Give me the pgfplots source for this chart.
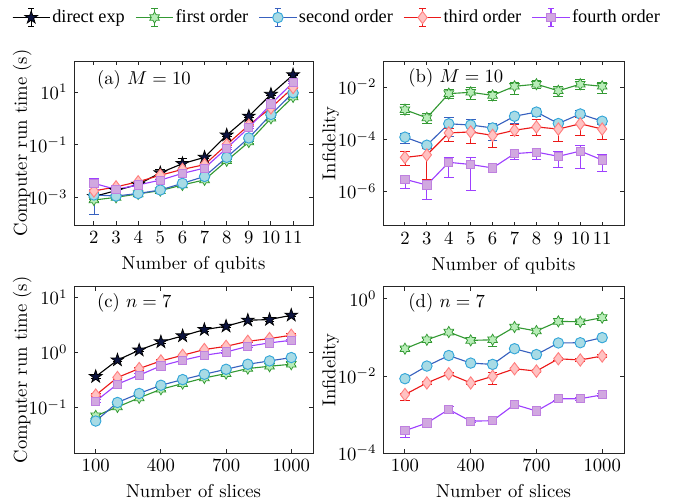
\documentclass[border=0pt]{standalone}
\usepackage{fontspec}
\usepackage{pgfplots}
\pgfplotsset{compat=1.18}
\usepackage{pgfplotstable}
\newfontfamily\legfont{Liberation Serif}

\definecolor{dirfill}{rgb}{0.05,0.08,0.25}
\definecolor{gline}{rgb}{0.2,0.6,0.2}
\definecolor{gfill}{rgb}{0.72,0.93,0.72}
\definecolor{bline}{rgb}{0.22,0.38,0.75}
\definecolor{bedge}{rgb}{0.2,0.65,0.85}
\definecolor{bfill}{rgb}{0.66,0.86,0.9}
\definecolor{rline}{rgb}{0.92,0.1,0.1}
\definecolor{redge}{rgb}{1,0.5,0.5}
\definecolor{rfill}{rgb}{1,0.76,0.76}
\definecolor{pline}{rgb}{0.62,0.25,1}
\definecolor{pedge}{rgb}{0.75,0.5,0.88}
\definecolor{pfill}{rgb}{0.82,0.66,0.88}

\pgfdeclareplotmark{pentagram}{%
  \pgfpathmoveto{\pgfpointpolar{90}{\pgfplotmarksize}}%
  \pgfpathlineto{\pgfpointpolar{126}{0.382\pgfplotmarksize}}%
  \pgfpathlineto{\pgfpointpolar{162}{\pgfplotmarksize}}%
  \pgfpathlineto{\pgfpointpolar{198}{0.382\pgfplotmarksize}}%
  \pgfpathlineto{\pgfpointpolar{234}{\pgfplotmarksize}}%
  \pgfpathlineto{\pgfpointpolar{270}{0.382\pgfplotmarksize}}%
  \pgfpathlineto{\pgfpointpolar{306}{\pgfplotmarksize}}%
  \pgfpathlineto{\pgfpointpolar{342}{0.382\pgfplotmarksize}}%
  \pgfpathlineto{\pgfpointpolar{18}{\pgfplotmarksize}}%
  \pgfpathlineto{\pgfpointpolar{54}{0.382\pgfplotmarksize}}%
  \pgfpathclose
  \pgfusepathqfillstroke
}
\pgfdeclareplotmark{hexagram}{%
  \pgfpathmoveto{\pgfpointpolar{90}{\pgfplotmarksize}}%
  \pgfpathlineto{\pgfpointpolar{120}{0.577\pgfplotmarksize}}%
  \pgfpathlineto{\pgfpointpolar{150}{\pgfplotmarksize}}%
  \pgfpathlineto{\pgfpointpolar{180}{0.577\pgfplotmarksize}}%
  \pgfpathlineto{\pgfpointpolar{210}{\pgfplotmarksize}}%
  \pgfpathlineto{\pgfpointpolar{240}{0.577\pgfplotmarksize}}%
  \pgfpathlineto{\pgfpointpolar{270}{\pgfplotmarksize}}%
  \pgfpathlineto{\pgfpointpolar{300}{0.577\pgfplotmarksize}}%
  \pgfpathlineto{\pgfpointpolar{330}{\pgfplotmarksize}}%
  \pgfpathlineto{\pgfpointpolar{0}{0.577\pgfplotmarksize}}%
  \pgfpathlineto{\pgfpointpolar{30}{\pgfplotmarksize}}%
  \pgfpathlineto{\pgfpointpolar{60}{0.577\pgfplotmarksize}}%
  \pgfpathclose
  \pgfusepathqfillstroke
}

\pgfplotsset{
  every axis/.append style={scale only axis, anchor=south west,
    tick align=inside, major tick length=2pt, yminorticks=false, xminorticks=false,
    axis line style={black!85, line width=0.5pt},
    tick style={black!85, line width=0.5pt},
    tick label style={font=\normalsize}, label style={font=\normalsize},
    xticklabel style={/pgf/number format/1000 sep={}}},
  every axis y label/.style={at={(axis description cs:-0.217,0.5)}, rotate=90, anchor=center},
  errleg/.style={legend image code/.code={
      \draw[mark=none] (0pt,0pt) -- (20pt,0pt);
      \draw[mark=none] (10pt,-5pt) -- (10pt,5pt);
      \draw[mark=none] (8.3pt,-5pt) -- (11.7pt,-5pt);
      \draw[mark=none] (8.3pt,5pt) -- (11.7pt,5pt);
      \draw[mark repeat=2, mark phase=2] plot coordinates {(0pt,0pt) (10pt,0pt) (20pt,0pt)};}},
  sdir/.style={black, line width=0.6pt, mark=pentagram, mark size=3.6pt,
    mark options={fill=dirfill, draw=black, line width=0.4pt}, errleg},
  sfir/.style={gline, line width=0.6pt, mark=hexagram, mark size=3.0pt,
    mark options={fill=gfill, draw=gline, line width=0.4pt}, errleg},
  ssec/.style={bline, line width=0.6pt, mark=*, mark size=2.8pt,
    mark options={fill=bfill, draw=bedge, line width=0.5pt}, errleg},
  sthi/.style={rline, line width=0.6pt, mark=diamond*, mark size=3.3pt,
    mark options={fill=rfill, draw=redge, line width=0.5pt}, errleg},
  sfou/.style={pline, line width=0.6pt, mark=square*, mark size=2.2pt,
    mark options={fill=pfill, draw=pedge, line width=0.5pt}, errleg},
}

% ---------- panel (a): run time vs qubits (M = 10) ----------
\pgfplotstableread{
x y lo hi
2 1.07e-3 0.97e-3 1.18e-3
3 1.8e-3 1.65e-3 1.95e-3
4 3.1e-3 2.85e-3 3.4e-3
5 8.5e-3 6.0e-3 1.17e-2
6 1.9e-2 1.24e-2 2.95e-2
7 3.3e-2 3.0e-2 3.6e-2
8 0.23 0.21 0.25
9 1.2 1.1 1.3
10 8.1 7.5 8.7
11 44.7 41 48
}\tAdir
\pgfplotstableread{
x y lo hi
2 7.9e-4 7.2e-4 8.6e-4
3 1.0e-3 0.92e-3 1.08e-3
4 1.35e-3 1.24e-3 1.46e-3
5 1.8e-3 1.65e-3 1.95e-3
6 2.95e-3 2.7e-3 3.2e-3
7 4.6e-3 4.2e-3 5.0e-3
8 2.45e-2 2.25e-2 2.65e-2
9 0.126 0.116 0.136
10 1.0 0.92 1.08
11 6.5 6.0 7.0
}\tAfir
\pgfplotstableread{
x y lo hi
2 1.23e-3 2.3e-4 2.0e-3
3 1.12e-3 1.03e-3 1.21e-3
4 1.4e-3 1.29e-3 1.51e-3
5 1.9e-3 1.75e-3 2.05e-3
6 3.4e-3 3.1e-3 3.7e-3
7 6.2e-3 5.7e-3 6.7e-3
8 3.3e-2 3.0e-2 3.6e-2
9 0.18 0.165 0.195
10 1.4 1.29 1.51
11 9.3 8.6 10.0
}\tAsec
\pgfplotstableread{
x y lo hi
2 1.74e-3 1.6e-3 1.9e-3
3 2.5e-3 2.3e-3 2.7e-3
4 3.9e-3 3.6e-3 4.2e-3
5 6.9e-3 6.35e-3 7.45e-3
6 1.15e-2 1.06e-2 1.24e-2
7 1.74e-2 1.6e-2 1.88e-2
8 0.1 0.092 0.108
9 0.55 0.5 0.6
10 2.5 2.3 2.7
11 14.8 13.6 16
}\tAthi
\pgfplotstableread{
x y lo hi
2 3.4e-3 2.0e-3 5.2e-3
3 2.0e-3 1.84e-3 2.16e-3
4 2.95e-3 2.7e-3 3.2e-3
5 4.5e-3 4.1e-3 4.9e-3
6 8.1e-3 7.45e-3 8.75e-3
7 1.29e-2 1.19e-2 1.39e-2
8 7.4e-2 6.8e-2 8.0e-2
9 0.44 0.4 0.48
10 3.5 3.2 3.8
11 23 21 25
}\tAfou

% ---------- panel (b): infidelity vs qubits (M = 10) ----------
\pgfplotstableread{
x y lo hi
2 1.35e-3 8.7e-4 2.1e-3
3 6.6e-4 4.2e-4 1.02e-3
4 5.6e-3 3.6e-3 7.9e-3
5 6.3e-3 3.3e-3 9.8e-3
6 4.8e-3 3.0e-3 6.8e-3
7 1.07e-2 5.1e-3 1.55e-2
8 1.29e-2 8.7e-3 1.74e-2
9 7.2e-3 4.4e-3 1.03e-2
10 1.29e-2 7.9e-3 1.9e-2
11 1.07e-2 5.9e-3 1.55e-2
}\tBfir
\pgfplotstableread{
x y lo hi
2 1.2e-4 7.2e-5 1.74e-4
3 5.9e-5 4.9e-5 7.2e-5
4 3.9e-4 1.29e-4 6.6e-4
5 3.5e-4 2.0e-4 5.6e-4
6 2.7e-4 8.9e-5 4.2e-4
7 7.6e-4 4.2e-4 1.02e-3
8 1.1e-3 7.6e-4 1.58e-3
9 4.0e-4 2.7e-4 5.1e-4
10 9.3e-4 6.6e-4 1.26e-3
11 4.9e-4 3.6e-4 6.2e-4
}\tBsec
\pgfplotstableread{
x y lo hi
2 2.0e-5 9.8e-6 3.5e-5
3 2.5e-5 2.9e-6 4.4e-5
4 1.74e-4 8.3e-5 2.7e-4
5 1.9e-4 7.2e-5 3.2e-4
6 1.4e-4 4.7e-5 2.7e-4
7 2.2e-4 1.4e-4 3.6e-4
8 2.95e-4 1.4e-4 5.6e-4
9 2.45e-4 8.3e-5 4.2e-4
10 3.9e-4 1.4e-4 6.6e-4
11 2.45e-4 1.0e-4 4.2e-4
}\tBthi
\pgfplotstableread{
x y lo hi
2 2.9e-6 1.26e-6 4.1e-6
3 1.74e-6 4.9e-7 2.3e-6
4 1.3e-5 3.3e-6 2.0e-5
5 1.07e-5 1.1e-6 2.0e-5
6 7.9e-6 6.0e-6 1.07e-5
7 2.8e-5 1.66e-5 4.1e-5
8 3.2e-5 1.66e-5 4.4e-5
9 2.2e-5 8.5e-6 3.5e-5
10 3.5e-5 7.4e-6 5.9e-5
11 1.6e-5 6.0e-6 2.6e-5
}\tBfou

% ---------- panel (c): run time vs slices (n = 7) ----------
\pgfplotstableread{
x y
100 0.36
200 0.72
300 1.09
400 1.54
500 1.98
600 2.58
700 2.97
800 3.82
900 3.93
1000 4.71
}\tCdir
\pgfplotstableread{
x y
100 0.0695
200 0.101
300 0.148
400 0.212
500 0.269
600 0.341
700 0.409
800 0.505
900 0.556
1000 0.605
}\tCfir
\pgfplotstableread{
x y
100 0.056
200 0.122
300 0.178
400 0.251
500 0.318
600 0.398
700 0.49
800 0.605
900 0.695
1000 0.80
}\tCsec
\pgfplotstableread{
x y
100 0.166
200 0.347
300 0.505
400 0.695
500 0.88
600 1.12
700 1.28
800 1.58
900 1.77
1000 2.04
}\tCthi
\pgfplotstableread{
x y
100 0.129
200 0.263
300 0.382
400 0.565
500 0.716
600 0.88
700 1.01
800 1.28
900 1.48
1000 1.65
}\tCfou

% ---------- panel (d): infidelity vs slices (n = 7) ----------
\pgfplotstableread{
x y lo hi
100 0.051 0.046 0.056
200 0.087 0.079 0.095
300 0.138 0.125 0.151
400 0.084 0.076 0.092
500 0.087 0.059 0.10
600 0.187 0.17 0.205
700 0.147 0.134 0.16
800 0.262 0.24 0.285
900 0.255 0.232 0.278
1000 0.327 0.30 0.355
}\tDfir
\pgfplotstableread{
x y lo hi
100 8.5e-3 7.8e-3 9.2e-3
200 1.81e-2 1.66e-2 1.96e-2
300 3.4e-2 3.1e-2 3.7e-2
400 2.16e-2 1.98e-2 2.34e-2
500 2.0e-2 1.85e-2 2.5e-2
600 5.1e-2 4.7e-2 5.5e-2
700 3.6e-2 3.3e-2 3.9e-2
800 7.2e-2 6.6e-2 7.8e-2
900 7.3e-2 6.7e-2 7.9e-2
1000 9.9e-2 9.1e-2 0.107
}\tDsec
\pgfplotstableread{
x y lo hi
100 3.3e-3 2.3e-3 3.6e-3
200 6.6e-3 6.1e-3 7.1e-3
300 1.14e-2 1.05e-2 1.23e-2
400 6.6e-3 6.1e-3 7.1e-3
500 9.8e-3 5.9e-3 1.26e-2
600 1.54e-2 1.42e-2 1.66e-2
700 1.34e-2 1.23e-2 1.45e-2
800 2.8e-2 2.6e-2 3.0e-2
900 2.6e-2 2.4e-2 2.8e-2
1000 3.3e-2 3.05e-2 3.55e-2
}\tDthi
\pgfplotstableread{
x y lo hi
100 3.8e-4 2.6e-4 4.9e-4
200 6.0e-4 5.5e-4 6.5e-4
300 1.35e-3 1.05e-3 1.6e-3
400 6.7e-4 6.2e-4 7.2e-4
500 6.9e-4 6.2e-4 8.5e-4
600 1.82e-3 1.65e-3 2.0e-3
700 1.23e-3 1.12e-3 1.35e-3
800 2.57e-3 2.35e-3 2.8e-3
900 2.57e-3 2.35e-3 2.8e-3
1000 3.24e-3 2.95e-3 3.55e-3
}\tDfou

\begin{document}
\begin{tikzpicture}
\path[use as bounding box] (0,0) rectangle (363.4pt,268pt);

% (a)
\begin{axis}[ymode=log, at={(39.66pt,147.4pt)}, width=128.1pt, height=87.9pt,
  xmin=1.1, xmax=11.9, ymin=8.9e-5, ymax=150,
  xtick={2,3,...,11}, ytick={1e-3,1e-1,1e1},
  xlabel={Number of qubits}, ylabel={Computer run time (s)},
  legend columns=5,
  legend style={at={(1.100,1.265)}, anchor=center, draw=none, fill=none,
    font=\legfont\fontsize{9.8}{11}\selectfont,
    nodes={inner xsep=1pt},
    /tikz/every even column/.append style={column sep=4.6pt}}]
\addplot[sdir, error bars/.cd, y dir=both, y explicit, error mark options={rotate=90, mark size=2.6pt}] table[x=x, y=y, y error plus expr=\thisrow{hi}-\thisrow{y}, y error minus expr=\thisrow{y}-\thisrow{lo}] {\tAdir}; \addlegendentry{direct exp}
\addplot[sfir, error bars/.cd, y dir=both, y explicit, error mark options={rotate=90, mark size=2.6pt}] table[x=x, y=y, y error plus expr=\thisrow{hi}-\thisrow{y}, y error minus expr=\thisrow{y}-\thisrow{lo}] {\tAfir}; \addlegendentry{first order}
\addplot[ssec, error bars/.cd, y dir=both, y explicit, error mark options={rotate=90, mark size=2.6pt}] table[x=x, y=y, y error plus expr=\thisrow{hi}-\thisrow{y}, y error minus expr=\thisrow{y}-\thisrow{lo}] {\tAsec}; \addlegendentry{second order}
\addplot[sthi, error bars/.cd, y dir=both, y explicit, error mark options={rotate=90, mark size=2.6pt}] table[x=x, y=y, y error plus expr=\thisrow{hi}-\thisrow{y}, y error minus expr=\thisrow{y}-\thisrow{lo}] {\tAthi}; \addlegendentry{third order}
\addplot[sfou, error bars/.cd, y dir=both, y explicit, error mark options={rotate=90, mark size=2.6pt}] table[x=x, y=y, y error plus expr=\thisrow{hi}-\thisrow{y}, y error minus expr=\thisrow{y}-\thisrow{lo}] {\tAfou}; \addlegendentry{fourth order}
\node[anchor=west, inner sep=0pt] at (rel axis cs:0.095,0.888) {(a) $M=10$};
\end{axis}

% (b)
\begin{axis}[ymode=log, at={(205.3pt,146.9pt)}, width=129.2pt, height=88.4pt,
  xmin=1, xmax=12, ymin=4.7e-8, ymax=0.1,
  xtick={2,3,...,11}, ytick={1e-6,1e-4,1e-2},
  xlabel={Number of qubits}, ylabel={Infidelity}]
\addplot[sfir, error bars/.cd, y dir=both, y explicit, error mark options={rotate=90, mark size=2.6pt}] table[x=x, y=y, y error plus expr=\thisrow{hi}-\thisrow{y}, y error minus expr=\thisrow{y}-\thisrow{lo}] {\tBfir};
\addplot[ssec, error bars/.cd, y dir=both, y explicit, error mark options={rotate=90, mark size=2.6pt}] table[x=x, y=y, y error plus expr=\thisrow{hi}-\thisrow{y}, y error minus expr=\thisrow{y}-\thisrow{lo}] {\tBsec};
\addplot[sthi, error bars/.cd, y dir=both, y explicit, error mark options={rotate=90, mark size=2.6pt}] table[x=x, y=y, y error plus expr=\thisrow{hi}-\thisrow{y}, y error minus expr=\thisrow{y}-\thisrow{lo}] {\tBthi};
\addplot[sfou, error bars/.cd, y dir=both, y explicit, error mark options={rotate=90, mark size=2.6pt}] table[x=x, y=y, y error plus expr=\thisrow{hi}-\thisrow{y}, y error minus expr=\thisrow{y}-\thisrow{lo}] {\tBfou};
\node[anchor=west, inner sep=0pt] at (rel axis cs:0.104,0.895) {(b) $M=10$};
\end{axis}

% (c)
\begin{axis}[ymode=log, at={(39.66pt,25.2pt)}, width=128.1pt, height=89pt,
  xmin=0, xmax=1100, ymin=0.0147, ymax=15.4,
  xtick={100,400,700,1000}, ytick={0.1,1,10},
  xlabel={Number of slices}, ylabel={Computer run time (s)}]
\addplot[sdir, error bars/.cd, y dir=both, y fixed relative=0.06, error mark options={rotate=90, mark size=2.6pt}] table[x=x,y=y] {\tCdir};
\addplot[sfir, error bars/.cd, y dir=both, y fixed relative=0.06, error mark options={rotate=90, mark size=2.6pt}] table[x=x,y=y] {\tCfir};
\addplot[ssec, error bars/.cd, y dir=both, y fixed relative=0.06, error mark options={rotate=90, mark size=2.6pt}] table[x=x,y=y] {\tCsec};
\addplot[sthi, error bars/.cd, y dir=both, y fixed relative=0.06, error mark options={rotate=90, mark size=2.6pt}] table[x=x,y=y] {\tCthi};
\addplot[sfou, error bars/.cd, y dir=both, y fixed relative=0.06, error mark options={rotate=90, mark size=2.6pt}] table[x=x,y=y] {\tCfou};
\node[anchor=west, inner sep=0pt] at (rel axis cs:0.095,0.902) {(c) $n=7$};
\end{axis}

% (d)
\begin{axis}[ymode=log, at={(205.3pt,25.2pt)}, width=129.2pt, height=89pt,
  xmin=0, xmax=1100, ymin=1e-4, ymax=2.05,
  xtick={100,400,700,1000}, ytick={1e-4,1e-2,1},
  xlabel={Number of slices}, ylabel={Infidelity}]
\addplot[sfir, error bars/.cd, y dir=both, y explicit, error mark options={rotate=90, mark size=2.6pt}] table[x=x, y=y, y error plus expr=\thisrow{hi}-\thisrow{y}, y error minus expr=\thisrow{y}-\thisrow{lo}] {\tDfir};
\addplot[ssec, error bars/.cd, y dir=both, y explicit, error mark options={rotate=90, mark size=2.6pt}] table[x=x, y=y, y error plus expr=\thisrow{hi}-\thisrow{y}, y error minus expr=\thisrow{y}-\thisrow{lo}] {\tDsec};
\addplot[sthi, error bars/.cd, y dir=both, y explicit, error mark options={rotate=90, mark size=2.6pt}] table[x=x, y=y, y error plus expr=\thisrow{hi}-\thisrow{y}, y error minus expr=\thisrow{y}-\thisrow{lo}] {\tDthi};
\addplot[sfou, error bars/.cd, y dir=both, y explicit, error mark options={rotate=90, mark size=2.6pt}] table[x=x, y=y, y error plus expr=\thisrow{hi}-\thisrow{y}, y error minus expr=\thisrow{y}-\thisrow{lo}] {\tDfou};
\node[anchor=west, inner sep=0pt] at (rel axis cs:0.104,0.902) {(d) $n=7$};
\end{axis}
\end{tikzpicture}
\end{document}
